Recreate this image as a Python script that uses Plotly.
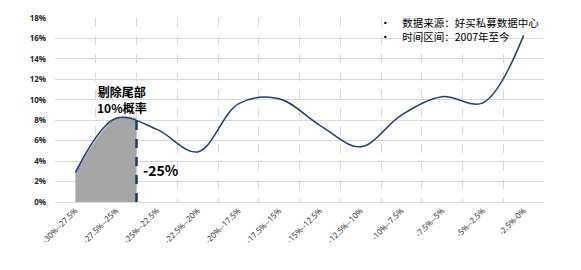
import plotly.graph_objects as go

categories = ["-30%--27.5%", "-27.5%--25%", "-25%--22.5%", "-22.5%--20%", "-20%--17.5%",
              "-17.5%--15%", "-15%--12.5%", "-12.5%--10%", "-10%--7.5%", "-7.5%--5%",
              "-5%--2.5%", "-2.5%-0%"]
probability = [0.029, 0.082, 0.071, 0.049, 0.096, 0.101, 0.075, 0.054, 0.085, 0.103, 0.097, 0.163]
tail_x = [0, 1, 1.5]
tail_y = [0.029, 0.082, 0.082]
cut_x = 1.5
cut_top = 0.087
notes = ["数据来源：好买私募数据中心", "时间区间：2007年至今"]

xs = list(range(len(categories)))
fig = go.Figure()
fig.add_trace(go.Scatter(x=tail_x, y=tail_y, mode="lines", line=dict(shape="spline", width=0, color="#A6A6A6"),
                         fill="tozeroy", fillcolor="#A6A6A6", hoverinfo="skip", showlegend=False))
fig.add_trace(go.Scatter(x=xs, y=probability, mode="lines",
                         line=dict(shape="spline", smoothing=1.0, width=1.5, color="#203E7C"),
                         showlegend=False))
fig.add_trace(go.Scatter(x=[cut_x, cut_x], y=[0, cut_top], mode="lines",
                         line=dict(color="#1F3864", width=2.5, dash="dash"), showlegend=False))

cjk = "Noto Sans CJK SC"
fig.add_annotation(x=1.15, y=0.100, xref="x", yref="y", text="<b>剔除尾部<br>10%概率</b>", showarrow=False,
                   font=dict(family=cjk, size=12, color="#000000"), align="center")
fig.add_annotation(x=1.6, y=0.031, xref="x", yref="y", text="<b>-25%</b>", showarrow=False, xanchor="left",
                   font=dict(family=cjk, size=14, color="#000000"))
gap = "&nbsp;" * 5
fig.add_annotation(x=0.66, y=0.935, xref="paper", yref="paper",
                   text="<br>".join("•" + gap + n for n in notes),
                   showarrow=False, xanchor="left", yanchor="middle", align="left",
                   font=dict(family=cjk, size=10.5, color="#000000"))

fig.update_layout(
    width=581, height=270, margin=dict(l=55, r=37, t=14, b=68),
    plot_bgcolor="white", paper_bgcolor="white",
    xaxis=dict(range=[-0.5, 11.5], tickvals=xs, ticktext=categories, tickangle=-45,
               showgrid=False, zeroline=False, showline=True, linecolor="#D9D9D9",
               tickfont=dict(family="Open Sans", size=8, color="#262626"),
               minor=dict(tickvals=[i + 0.5 for i in range(-1, 12)], showgrid=True,
                          gridcolor="#D9D9D9", griddash="dash", gridwidth=1)),
    yaxis=dict(range=[0, 0.18], dtick=0.02, tickformat=".0%", showgrid=True, gridcolor="#D9D9D9",
               zeroline=False, ticklabelstandoff=8,
               tickfont=dict(family="Open Sans", size=8, color="#262626", weight="bold")),
)
fig.write_html("out.html")
